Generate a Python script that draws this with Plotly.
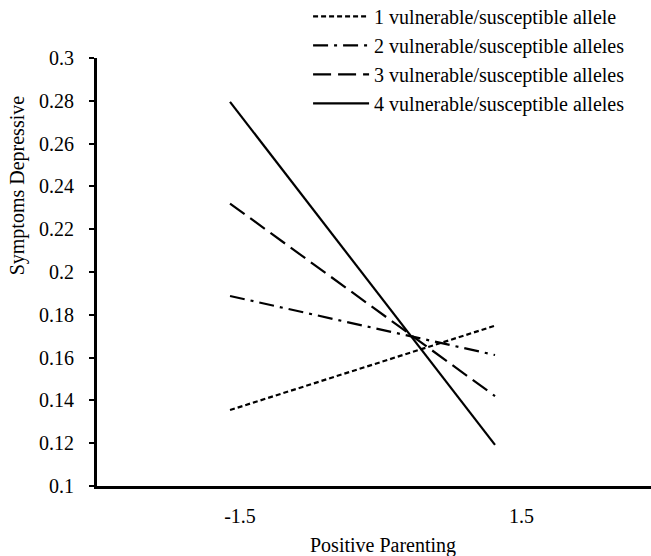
import plotly.graph_objects as go

# Data
parenting = [-1.5, 1.5]
series_names = [
    "1 vulnerable/susceptible allele",
    "2 vulnerable/susceptible alleles",
    "3 vulnerable/susceptible alleles",
    "4 vulnerable/susceptible alleles",
]
allele1 = [0.1355, 0.1749]
allele2 = [0.1888, 0.1612]
allele3 = [0.2320, 0.1420]
allele4 = [0.2795, 0.1192]
y_ticks = [0.1, 0.12, 0.14, 0.16, 0.18, 0.2, 0.22, 0.24, 0.26, 0.28, 0.3]
x_tick_labels = ["-1.5", "1.5"]
x_tick_pos = [-1.387, 1.80]

dashes = ["5px,3px", "15px,6px,3px,6px", "18px,7px", "solid"]
values = [allele1, allele2, allele3, allele4]

FONT = "Liberation Serif, Times New Roman, serif"

fig = go.Figure()
for name, vals, d in zip(series_names, values, dashes):
    fig.add_trace(go.Scatter(
        x=parenting, y=vals, mode="lines", name=name,
        line=dict(color="black", width=2.2, dash=d),
    ))

fig.update_layout(
    width=651, height=556,
    margin=dict(l=97, r=0, t=58, b=70, autoexpand=False),
    paper_bgcolor="white", plot_bgcolor="white",
    font=dict(family=FONT, size=20, color="black"),
    showlegend=True,
    legend=dict(
        x=0.381, y=1.143, xanchor="left", yanchor="top",
        bgcolor="rgba(0,0,0,0)", itemwidth=56,
        font=dict(family=FONT, size=20, color="black"),
        tracegroupgap=0, itemclick=False,
    ),
    xaxis=dict(
        range=[-3.006, 3.266], showgrid=False, zeroline=False,
        showline=True, linecolor="black", linewidth=3,
        tickmode="array", tickvals=x_tick_pos, ticktext=x_tick_labels,
        ticks="", ticklabelstandoff=10,
        tickfont=dict(family=FONT, size=20),
    ),
    yaxis=dict(
        range=[0.1, 0.3], showgrid=False, zeroline=False,
        showline=True, linecolor="black", linewidth=3,
        tickmode="array", tickvals=y_ticks,
        ticktext=[f"{v:g}" for v in y_ticks],
        ticks="outside", ticklen=5, tickwidth=2, tickcolor="black",
        ticklabelstandoff=11,
        tickfont=dict(family=FONT, size=20),
    ),
    annotations=[
        dict(text="Symptoms Depressive", textangle=-90, xref="paper", yref="paper",
             x=-0.144, y=0.703, xanchor="center", yanchor="middle", showarrow=False,
             font=dict(family=FONT, size=20)),
        dict(text="Positive Parenting", xref="paper", yref="paper",
             x=0.516, y=-0.138, xanchor="center", yanchor="middle", showarrow=False,
             font=dict(family=FONT, size=20)),
    ],
)

fig.write_html(
    "out.html",
    config={"displayModeBar": False},
    post_script="document.body.style.margin='0';document.body.style.overflow='hidden';",
)
